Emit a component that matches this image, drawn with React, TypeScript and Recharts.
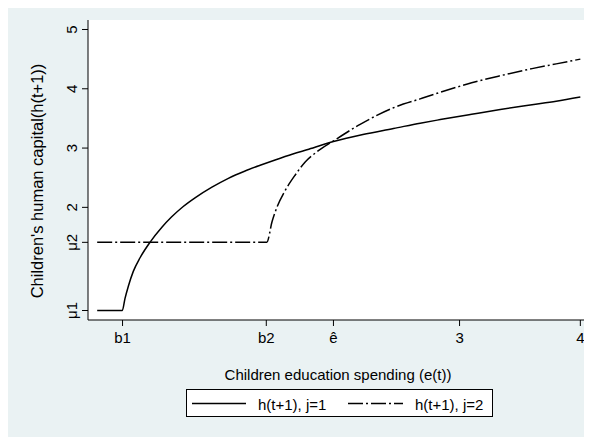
import { LineChart, Line, XAxis, YAxis, CartesianGrid } from 'recharts';

// children education spending e(t) and human capital h(t+1)
const spendingJ1 = [0, 0.208, 0.23, 0.258, 0.299, 0.355, 0.437, 0.534, 0.617, 0.71, 0.81, 0.95, 1.086, 1.22, 1.349, 1.473, 1.62, 1.752, 1.956, 2.2, 2.453, 2.674, 2.84, 3.1, 3.337, 3.6, 3.8, 4.0];
const capitalJ1 = [0.26, 0.26, 0.46, 0.67, 0.92, 1.15, 1.41, 1.66, 1.84, 2.01, 2.16, 2.34, 2.49, 2.61, 2.71, 2.8, 2.9, 2.98, 3.11, 3.23, 3.33, 3.42, 3.48, 3.57, 3.65, 3.73, 3.79, 3.86];

const spendingJ2 = [0, 1.404, 1.448, 1.49, 1.558, 1.641, 1.724, 1.821, 1.956, 2.177, 2.453, 2.674, 2.84, 3.1, 3.337, 3.6, 3.8, 4.0];
const capitalJ2 = [1.41, 1.41, 1.76, 2.01, 2.29, 2.55, 2.77, 2.94, 3.12, 3.4, 3.68, 3.83, 3.94, 4.1, 4.22, 4.34, 4.42, 4.5];

const xTickValues = [0.21, 1.4, 1.956, 3, 4];
const xTickLabels = ['b1', 'b2', 'ê', '3', '4'];
const yTickValues = [0.26, 1.41, 2, 3, 4, 5];
const yTickLabels = ['μ1', 'μ2', '2', '3', '4', '5'];

const seriesNames = ['h(t+1), j=1', 'h(t+1), j=2'];

const FONT = '"Liberation Sans", Arial, Helvetica, sans-serif';
const DASH_DOT = '15 3 2 3';

const dataJ1 = spendingJ1.map((e, i) => ({ e, h: capitalJ1[i] }));
const dataJ2 = spendingJ2.map((e, i) => ({ e, h: capitalJ2[i] }));

const tickLabel = (values: number[], labels: string[], v: number) => {
  const i = values.findIndex((t) => Math.abs(t - v) < 1e-6);
  return i >= 0 ? labels[i] : String(v);
};

function XTick({ x, y, payload }: any) {
  return (
    <text x={x} y={y + 4} textAnchor="middle" dy="0.71em" fontSize={15} fontFamily={FONT} fill="#000">
      {tickLabel(xTickValues, xTickLabels, payload.value)}
    </text>
  );
}

function YTick({ x, y, payload }: any) {
  const cx = x - 8;
  return (
    <text
      x={cx}
      y={y}
      transform={`rotate(-90 ${cx} ${y})`}
      textAnchor="middle"
      dy="0.35em"
      fontSize={15}
      fontFamily={FONT}
      fill="#000"
    >
      {tickLabel(yTickValues, yTickLabels, payload.value)}
    </text>
  );
}

/**
 * 凡例と軸タイトル（チャートの上に重ねる）
 */
function Overlay() {
  return (
    <svg width={584} height={434} style={{ position: 'absolute', left: 0, top: 0, pointerEvents: 'none' }}>
      <text x={330} y={371} textAnchor="middle" dominantBaseline="central" fontSize={15} fontFamily={FONT} fill="#000">
        Children education spending (e(t))
      </text>
      <text
        x={29}
        y={178}
        transform="rotate(-90 29 178)"
        textAnchor="middle"
        dominantBaseline="central"
        fontSize={16.5}
        fontFamily={FONT}
        fill="#000"
      >
        Children's human capital(h(t+1))
      </text>
      <g transform="translate(178 386)">
        <rect x={0.5} y={0.5} width={306} height={27} fill="#fff" stroke="#000" strokeWidth={1} />
        <line x1={6} x2={60} y1={14.5} y2={14.5} stroke="#000" strokeWidth={1.5} />
        <text x={72} y={15} dominantBaseline="central" fontSize={15} fontFamily={FONT} fill="#000">
          {seriesNames[0]}
        </text>
        <line x1={162} x2={217} y1={14.5} y2={14.5} stroke="#000" strokeWidth={1.5} strokeDasharray={DASH_DOT} />
        <text x={229} y={15} dominantBaseline="central" fontSize={15} fontFamily={FONT} fill="#000">
          {seriesNames[1]}
        </text>
      </g>
    </svg>
  );
}

export default function App() {
  return (
    <div style={{ position: 'relative', width: 584, height: 434, marginTop: -5, background: '#eaf2f3' }}>
      <LineChart width={584} height={434} margin={{ top: 17, right: 2, bottom: 87, left: 40 }}>
        <CartesianGrid horizontal={false} vertical={false} fill="#fff" />
        <XAxis
          type="number"
          dataKey="e"
          domain={[-0.076, 4.08]}
          ticks={xTickValues}
          tick={<XTick />}
          height={30}
          tickSize={6}
          axisLine={{ stroke: '#000' }}
          tickLine={{ stroke: '#000' }}
          allowDataOverflow
        />
        <YAxis
          type="number"
          domain={[0.1, 5.16]}
          ticks={yTickValues}
          tick={<YTick />}
          width={40}
          tickSize={6}
          axisLine={{ stroke: '#000' }}
          tickLine={{ stroke: '#000' }}
          allowDataOverflow
        />
        <Line
          data={dataJ1}
          dataKey="h"
          name={seriesNames[0]}
          type="monotone"
          stroke="#000"
          strokeWidth={1.5}
          dot={false}
          isAnimationActive={false}
        />
        <Line
          data={dataJ2}
          dataKey="h"
          name={seriesNames[1]}
          type="monotone"
          stroke="#000"
          strokeWidth={1.5}
          strokeDasharray={DASH_DOT}
          dot={false}
          isAnimationActive={false}
        />
      </LineChart>
      <Overlay />
    </div>
  );
}
